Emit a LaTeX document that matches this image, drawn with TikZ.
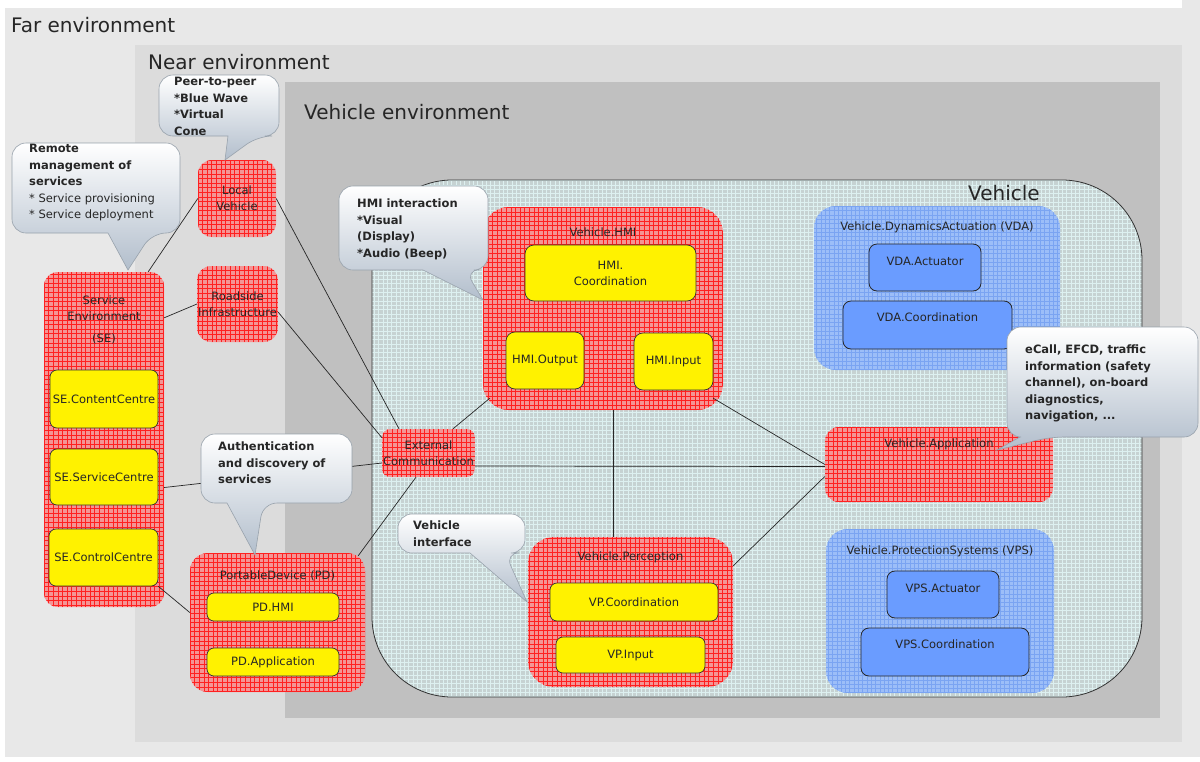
\documentclass[tikz,border=0pt]{standalone}
\usepackage{fontspec}
\setmainfont{DejaVu Sans}
\usepackage{xcolor}
\definecolor{farenv}{HTML}{E8E8E8}
\definecolor{nearenv}{HTML}{DCDCDC}
\definecolor{vehenv}{HTML}{C0C0C0}
\definecolor{vehfill}{HTML}{C6D2D2}
\definecolor{vehline}{HTML}{DDF0F0}
\definecolor{redfill}{HTML}{F49494}
\definecolor{redline}{HTML}{FF2020}
\definecolor{bluefill}{HTML}{9CBEF8}
\definecolor{blueline}{HTML}{7AA4F2}
\definecolor{blueinner}{HTML}{6A9CFF}
\definecolor{bubblemid}{HTML}{EEF1F5}
\definecolor{bubblebot}{HTML}{B2BECC}
\definecolor{bubbleline}{HTML}{98A2AC}
\usepackage{tikz}
\usetikzlibrary{calc}

\newcommand{\boxfont}{\fontsize{11.5}{16}\selectfont}
\newcommand{\notefont}{\fontsize{11.5}{16.5}\selectfont\bfseries}
\newcommand{\envfont}{\fontsize{20}{24}\selectfont}

% callout: x1 y1 x2 y2, pointer base bx1 bx2 on the lower edge, tip x y
\newcommand{\callout}[8]{%
  \path[bubble] (#1,#4) [rounded corners=14pt] -- (#1,#2) -- (#3,#2) -- (#3,#4)
    -- (#6,#4) [sharp corners] -- (#7,#8) -- (#5,#4) [rounded corners=14pt] -- cycle;}

\tikzset{
  envtitle/.style={font=\envfont, inner sep=0pt, text=black!85},
  redbox/.style={fill=redfill, rounded corners=14pt, inner sep=1pt,
    path picture={\draw[redline, line width=0.75pt]
      (path picture bounding box.south west) grid[step=4.6pt]
      (path picture bounding box.north east);}},
  vehiclebox/.style={fill=vehfill, draw=black!80, line width=0.8pt, rounded corners=80pt,
    path picture={\draw[vehline, line width=0.6pt]
      (path picture bounding box.south west) grid[step=4.3pt]
      (path picture bounding box.north east);}},
  bluegroup/.style={fill=bluefill, rounded corners=22pt,
    path picture={\draw[blueline, line width=0.5pt]
      (path picture bounding box.south west) grid[step=4.3pt]
      (path picture bounding box.north east);}},
  yellowbox/.style={fill=yellow, draw=black!80, line width=0.7pt, rounded corners=7pt, inner sep=1pt},
  bluebox/.style={fill=blueinner, draw=black!85, line width=0.8pt, rounded corners=8pt},
  link/.style={draw=black!85, line width=0.7pt},
  bubble/.style={draw=bubbleline, line width=0.6pt, top color=white, middle color=bubblemid, bottom color=bubblebot},
  note/.style={font=\notefont, align=left, inner sep=0pt, anchor=north west},
}

\begin{document}
\begin{tikzpicture}[x=1pt, y=-1pt, every node/.append style={font=\boxfont, text=black!85}]
  \useasboundingbox (0,0) rectangle (1200,761);
  \fill[white] (0,0) rectangle (1200,761);

  % far environment
  \fill[farenv] (5,8) rectangle (1200,757);
  \fill[farenv] (1182,0) rectangle (1200,8);
  % near environment
  \fill[nearenv] (135,45) rectangle (1182,742);
  % vehicle environment
  \fill[vehenv] (285,82) rectangle (1160,718);

  \node[envtitle, anchor=west] (fartitle) at (11,25) {Far environment};
  \node[envtitle, anchor=west] (neartitle) at (148,62) {Near environment};
  \node[envtitle, anchor=west] (vehenvtitle) at (304,112) {Vehicle environment};

  % vehicle
  \node[vehiclebox, minimum width=770pt, minimum height=517pt] (vehicle) at (757,438.5) {};
  \node[envtitle] (vehtitle) at (1004,193) {Vehicle};

  % service environment
  \node[redbox, minimum width=120pt, minimum height=335pt,
    label={[anchor=center, yshift=-48pt, align=center]north:Service\\Environment\\[6pt](SE)}]
    (se) at (104,439.5) {};
  \node[yellowbox, minimum width=108pt, minimum height=58pt] (secontent) at (104,399) {SE.ContentCentre};
  \node[yellowbox, minimum width=108pt, minimum height=56pt] (seservice) at (104,477) {SE.ServiceCentre};
  \node[yellowbox, minimum width=109pt, minimum height=57pt] (secontrol) at (103.5,557.5) {SE.ControlCentre};

  % near environment boxes
  \node[redbox, minimum width=78pt, minimum height=77pt, align=center] (local) at (237,198.5) {Local\\Vehicle};
  \node[redbox, minimum width=79pt, minimum height=76pt, align=center] (roadside) at (237.5,304) {Roadside\\Infrastructure};

  % portable device
  \node[redbox, rounded corners=18pt, minimum width=175pt, minimum height=139pt,
    label={[anchor=center, yshift=-23pt]north:PortableDevice (PD)}] (pd) at (277.5,622.5) {};
  \node[yellowbox, minimum width=132pt, minimum height=28pt] (pdhmi) at (273,607) {PD.HMI};
  \node[yellowbox, minimum width=132pt, minimum height=28pt] (pdapp) at (273,662) {PD.Application};

  \node[redbox, rounded corners=8pt, minimum width=91pt, minimum height=48pt, align=center]
    (extcomm) at (428.5,453) {External\\Communication};

  % vehicle HMI
  \node[redbox, rounded corners=26pt, minimum width=240pt, minimum height=203pt,
    label={[anchor=center, yshift=-25pt]north:Vehicle.HMI}] (vhmi) at (603,308.5) {};
  \node[yellowbox, rounded corners=9pt, minimum width=171pt, minimum height=56pt, align=center]
    (hmicoord) at (610.5,273) {HMI.\\Coordination};
  \node[yellowbox, rounded corners=9pt, minimum width=78pt, minimum height=57pt] (hmiout) at (545,360.5) {HMI.Output};
  \node[yellowbox, rounded corners=9pt, minimum width=79pt, minimum height=57pt] (hmiin) at (673.5,361.5) {HMI.Input};

  % vehicle perception
  \node[redbox, rounded corners=26pt, minimum width=205pt, minimum height=150pt,
    label={[anchor=center, yshift=-21pt]north:Vehicle.Perception}] (vp) at (630.5,612) {};
  \node[yellowbox, minimum width=168pt, minimum height=38pt] (vpcoord) at (634,602) {VP.Coordination};
  \node[yellowbox, minimum width=149pt, minimum height=36pt] (vpinput) at (630.5,655) {VP.Input};

  % vehicle application
  \node[redbox, minimum width=228pt, minimum height=75pt,
    label={[anchor=center, yshift=-18pt]north:Vehicle.Application}] (vapp) at (939,464.5) {};

  % dynamics actuation
  \node[bluegroup, minimum width=246pt, minimum height=164pt,
    label={[anchor=center, yshift=-22pt]north:Vehicle.DynamicsActuation (VDA)}] (vda) at (937,288) {};
  \node[bluebox, minimum width=112pt, minimum height=47pt,
    label={[anchor=center, yshift=-18pt]north:VDA.Actuator}] (vdaact) at (925,267.5) {};
  \node[bluebox, minimum width=169pt, minimum height=48pt,
    label={[anchor=center, yshift=-17pt]north:VDA.Coordination}] (vdacoord) at (927.5,325) {};

  % protection systems
  \node[bluegroup, minimum width=228pt, minimum height=164pt,
    label={[anchor=center, yshift=-23pt]north:Vehicle.ProtectionSystems (VPS)}] (vps) at (940,611) {};
  \node[bluebox, minimum width=112pt, minimum height=47pt,
    label={[anchor=center, yshift=-18pt]north:VPS.Actuator}] (vpsact) at (943,594.5) {};
  \node[bluebox, minimum width=168pt, minimum height=48pt,
    label={[anchor=center, yshift=-17pt]north:VPS.Coordination}] (vpscoord) at (945,652) {};

  % connections
  \draw[link] ($(se.north east)+(-16,0)$) -- (local.west);
  \draw[link] ($(se.north east)+(0,46)$) -- (roadside.west);
  \draw[link] ($(se.east)+(0,48)$) -- ($(extcomm.west)+(0,10)$);
  \draw[link] (secontrol.south east) -- ($(pd.west)+(0,-10)$);
  \draw[link] (local.east) -- ($(extcomm.north west)+(17,0)$);
  \draw[link] ($(roadside.east)+(0,8)$) -- ($(extcomm.north west)+(0,9)$);
  \draw[link] ($(pd.north east)+(-7,3)$) -- ($(extcomm.south west)+(34,0)$);
  \draw[link] ($(extcomm.north east)+(-22,0)$) -- ($(vhmi.south west)+(7,-12)$);
  \draw[link] ($(extcomm.east)+(0,13)$) -- ($(vapp.west)+(0,2)$);
  \draw[link] ($(vhmi.south)+(10,0)$) -- ($(vp.north)+(-17.5,0)$);
  \draw[link] ($(vhmi.south east)+(-10,-12)$) -- (vapp.west);
  \draw[link] ($(vp.north east)+(0,29)$) -- ($(vapp.west)+(0,12)$);

  % callouts
  \callout{159}{75}{279}{136}{228}{258}{225}{160}
  \node[note] (peernote) at (174,77) {Peer-to-peer\\*Blue Wave\\*Virtual\\Cone};

  \callout{12}{143}{180}{233}{108}{152}{128}{270}
  \node[note] (remotenote) at (29,144) {Remote\\management of\\services\\\mdseries * Service provisioning\\\mdseries * Service deployment};

  \callout{339}{186}{488}{270}{423}{465}{483}{300}
  \node[note] (hminote) at (357,199) {HMI interaction\\*Visual\\(Display)\\*Audio (Beep)};

  \callout{201}{434}{352}{503}{227}{263}{255}{555}
  \node[note] (authnote) at (218,442) {Authentication\\and discovery of\\services};

  \callout{398}{514}{525}{553}{470}{505}{527}{602}
  \node[note] (ifacenote) at (413,521) {Vehicle\\interface};

  \callout{1007}{327}{1198}{437}{1020}{1050}{997}{450}
  \node[note] (appnote) at (1025,345) {eCall, EFCD, traffic\\information (safety\\channel), on-board\\diagnostics,\\navigation, ...};
\end{tikzpicture}
\end{document}
